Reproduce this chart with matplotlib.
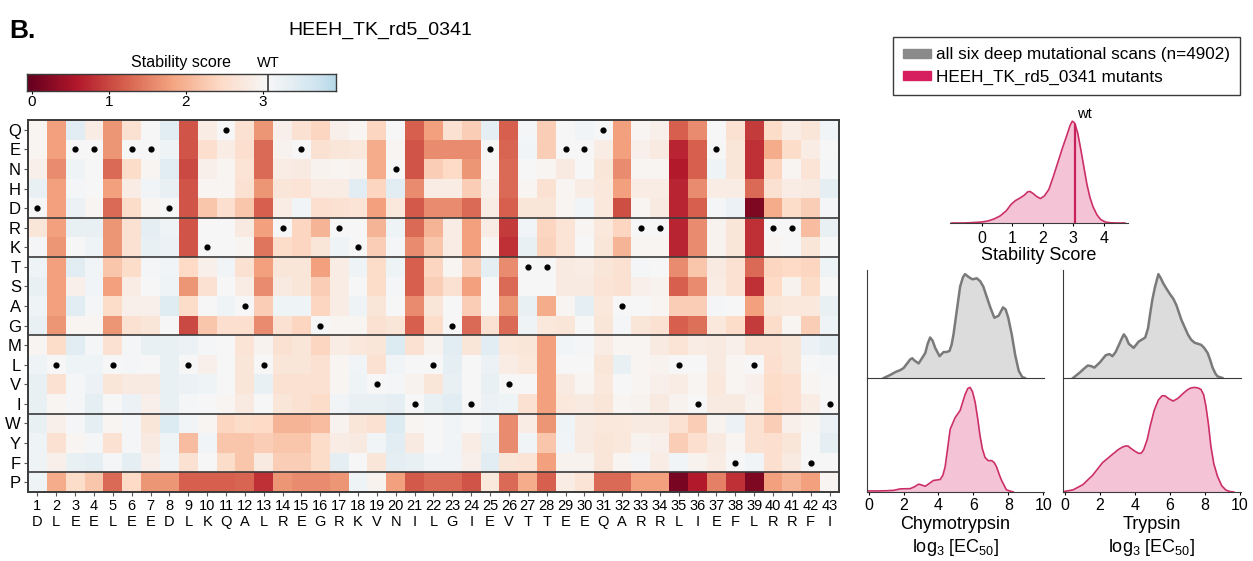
import numpy as np
import matplotlib.pyplot as plt
from matplotlib.colors import Normalize
from matplotlib.patches import Patch

plt.rcParams['font.family'] = ['Liberation Sans', 'DejaVu Sans']
plt.rcParams['mathtext.default'] = 'regular'

W, H = 1253, 561

sequence = "DLEELEEDLKQALREGRKVNILGIEVTTEEQARRLIEFLRRFI"
amino_acids = list("QENHDRKTSAGMLVIWYFP")
group_breaks = [4.5, 6.5, 10.5, 14.5, 17.5]
wt_score = 3.07

# stability score of each substitution, one list per position,
# rows in amino_acids order (Q E N H D R K T S A G M L V I W Y F P); None = wild type
N = None
scores_by_position = [
    [3.0, 3.0, 2.9, 3.3, N, 2.7, 3.1, 3.2, 3.3, 3.2, 3.3, 3.0, 3.2, 3.3, 3.3, 3.3, 3.2, 3.2, 3.2],
    [1.8, 1.8, 1.6, 1.8, 1.8, 1.8, 1.7, 1.8, 1.8, 1.8, 1.7, 2.5, N, 2.6, 3.0, 2.9, 2.6, 2.9, 1.9],
    [3.4, N, 3.2, 3.1, 3.25, 3.3, 3.05, 3.4, 2.9, 3.4, 3.0, 3.4, 3.2, 3.1, 3.1, 3.1, 3.0, 3.3, 2.5],
    [2.85, N, 3.05, 3.05, 3.0, 3.3, 3.2, 3.15, 3.15, 3.1, 3.0, 3.1, 3.2, 3.25, 3.35, 3.35, 3.1, 3.35, 2.2],
    [1.7, 1.7, 1.3, 1.8, 1.3, 1.7, 1.7, 2.2, 1.8, 2.5, 1.7, 2.6, N, 2.7, 3.05, 3.0, 2.6, 3.1, 1.3],
    [2.6, N, 2.5, 2.85, 2.5, 2.6, 2.6, 2.5, 2.85, 2.9, 2.6, 3.1, 3.1, 2.8, 3.25, 3.1, 3.1, 3.35, 2.45],
    [3.05, N, 3.0, 3.15, 3.0, 3.35, 3.3, 3.1, 3.05, 2.9, 2.7, 3.3, 3.05, 2.8, 2.9, 2.7, 2.8, 2.9, 1.7],
    [3.4, 3.2, 3.4, 3.3, N, 3.2, 3.25, 3.15, 3.2, 3.45, 3.05, 3.3, 3.3, 3.3, 3.3, 3.5, 3.2, 3.15, 1.7],
    [1.1, 1.1, 1.0, 1.1, 1.1, 1.1, 1.1, 2.45, 1.7, 2.5, 1.0, 3.25, N, 3.25, 3.1, 3.15, 2.1, 2.6, 1.2],
    [2.85, 2.55, 2.9, 3.0, 2.2, 3.05, N, 2.9, 2.6, 3.05, 2.2, 3.1, 2.9, 3.2, 3.05, 3.0, 3.15, 3.05, 1.2],
    [N, 2.85, 3.0, 3.0, 2.55, 3.05, 3.05, 3.15, 3.05, 3.2, 2.55, 3.05, 3.05, 3.05, 3.0, 2.4, 2.2, 2.5, 1.2],
    [2.6, 2.55, 2.65, 2.6, 2.2, 2.8, 3.0, 2.6, 2.85, N, 2.55, 2.65, 2.7, 2.7, 2.8, 2.5, 2.2, 2.2, 1.25],
    [1.7, 1.3, 1.3, 1.7, 1.2, 1.8, 1.4, 1.8, 1.6, 2.3, 1.6, 2.95, N, 3.3, 3.05, 2.45, 2.3, 2.8, 0.8],
    [2.9, 2.95, 2.85, 2.7, 2.85, N, 2.5, 2.7, 2.8, 3.2, 2.6, 2.6, 2.7, 2.6, 2.7, 2.0, 2.2, 2.3, 1.7],
    [2.6, N, 2.8, 2.65, 3.15, 2.4, 2.4, 2.7, 2.7, 3.2, 2.4, 2.7, 2.7, 2.6, 2.6, 2.0, 2.2, 2.3, 1.6],
    [2.4, 2.6, 2.95, 2.85, 2.55, 2.0, 2.7, 1.8, 2.3, 2.4, N, 2.4, 2.6, 2.6, 2.5, 2.1, 2.5, 2.5, 1.6],
    [2.9, 2.7, 3.0, 2.85, 2.6, N, 3.2, 2.85, 2.85, 2.85, 3.0, 2.85, 3.0, 3.0, 3.15, 2.95, 2.85, 3.35, 1.7],
    [3.0, 2.75, 2.95, 3.4, 2.65, 3.05, N, 3.2, 3.05, 3.2, 3.0, 2.75, 3.15, 3.2, 3.3, 2.7, 2.8, 3.05, 3.2],
    [2.4, 1.9, 1.9, 2.4, 1.8, 2.0, 2.3, 2.5, 2.5, 2.7, 2.6, 2.7, 2.6, N, 3.3, 2.6, 3.15, 2.7, 2.95],
    [3.05, 3.0, N, 3.4, 2.75, 3.2, 3.1, 3.2, 3.1, 3.05, 2.7, 3.5, 3.15, 3.1, 3.35, 3.5, 3.4, 3.35, 1.8],
    [1.2, 1.1, 1.1, 1.6, 1.15, 1.3, 1.6, 1.2, 1.2, 1.6, 1.2, 2.6, 3.05, 2.95, N, 3.0, 2.8, 3.3, 1.15],
    [1.8, 1.6, 2.3, 2.85, 1.6, 2.0, 2.2, 2.4, 2.3, 2.7, 2.5, 2.95, N, 2.7, 3.3, 3.05, 3.05, 3.15, 1.3],
    [2.6, 1.6, 2.45, 2.85, 1.6, 2.85, 2.85, 3.0, 2.6, 3.05, N, 3.4, 3.35, 3.3, 3.4, 3.15, 3.15, 3.15, 1.3],
    [2.3, 1.6, 1.7, 2.3, 1.3, 1.8, 1.8, 2.3, 1.8, 2.3, 1.3, 2.7, 3.05, 3.05, N, 3.05, 2.85, 2.9, 1.1],
    [3.35, N, 3.0, 2.9, 2.85, 2.85, 3.0, 3.35, 3.05, 3.05, 2.6, 3.4, 3.25, 3.3, 3.25, 3.2, 3.3, 3.4, 2.75],
    [1.2, 1.25, 1.3, 1.3, 1.2, 0.9, 0.8, 1.6, 1.3, 1.7, 1.3, 2.75, 2.85, N, 3.2, 1.6, 1.6, 2.7, 1.3],
    [3.1, 3.15, 3.05, 3.0, 2.7, 3.15, 3.3, N, 3.05, 3.3, 3.2, 2.7, 2.75, 3.05, 2.6, 2.85, 3.15, 2.65, 1.9],
    [2.3, 2.3, 3.0, 2.6, 2.7, 2.4, 2.35, N, 3.05, 1.9, 2.75, 1.8, 1.8, 1.8, 1.8, 1.7, 2.2, 1.8, 1.2],
    [3.05, N, 2.8, 3.0, 3.0, 2.65, 2.65, 2.8, 2.8, 3.0, 2.7, 3.15, 3.05, 2.8, 2.75, 3.2, 3.15, 2.95, 2.85],
    [3.15, N, 3.05, 2.85, 3.15, 3.0, 3.05, 2.85, 2.8, 3.35, 3.05, 3.1, 3.05, 3.0, 2.8, 2.8, 2.8, 2.95, 2.65],
    [N, 2.85, 2.7, 2.75, 2.75, 2.75, 2.7, 2.7, 2.65, 2.75, 2.7, 2.85, 2.7, 2.75, 2.7, 2.75, 2.7, 2.7, 1.3],
    [1.8, 1.8, 1.6, 1.8, 1.05, 2.4, 2.0, 2.6, 2.6, N, 3.1, 3.0, 3.3, 3.05, 3.0, 2.75, 2.75, 3.0, 1.3],
    [3.0, 2.9, 3.0, 2.85, 3.0, N, 3.0, 3.1, 2.9, 3.05, 2.7, 3.0, 3.0, 3.0, 2.95, 2.8, 2.95, 3.1, 1.8],
    [2.9, 2.8, 3.0, 2.85, 2.8, N, 3.0, 3.05, 2.95, 3.0, 2.6, 2.8, 2.95, 2.9, 2.8, 2.8, 2.9, 2.85, 1.8],
    [1.2, 0.7, 0.6, 0.7, 0.7, 0.7, 0.7, 1.6, 1.2, 2.3, 1.2, 2.65, N, 2.85, 2.95, 2.6, 2.3, 3.15, 0.1],
    [1.6, 1.2, 1.2, 1.6, 1.2, 1.6, 1.6, 2.2, 1.6, 2.3, 1.35, 2.85, 3.05, 3.0, N, 2.3, 2.55, 2.95, 0.6],
    [3.05, N, 3.2, 2.85, 3.1, 2.95, 2.95, 2.8, 2.85, 3.1, 2.75, 2.8, 2.8, 2.75, 2.8, 2.95, 2.8, 2.85, 1.5],
    [2.6, 2.7, 2.7, 2.85, 3.25, 2.7, 2.7, 2.6, 2.6, 3.05, 2.5, 2.9, 3.0, 3.0, 2.8, 3.25, 3.0, N, 0.8],
    [0.9, 0.8, 0.8, 1.3, 0.15, 0.8, 0.8, 1.3, 0.8, 1.8, 0.9, 2.6, N, 2.9, 2.95, 2.6, 2.6, 3.15, 0.15],
    [2.5, 1.9, 2.4, 2.6, 1.9, N, 3.0, 2.4, 2.45, 2.7, 2.5, 2.6, 2.55, 2.5, 2.45, 2.3, 2.55, 2.55, 1.8],
    [2.85, 2.5, 3.0, 2.85, 2.5, N, 3.05, 2.45, 2.95, 2.75, 3.0, 2.7, 2.7, 2.55, 2.55, 2.9, 2.7, 2.8, 2.0],
    [2.7, 2.85, 2.65, 2.8, 2.3, 2.1, 2.7, 2.4, 2.5, 2.75, 2.3, 3.25, 3.05, 3.0, 2.85, 3.0, 3.05, N, 1.8],
    [3.15, 3.05, 3.1, 3.35, 3.1, 3.3, 3.05, 3.2, 3.05, 3.3, 3.2, 3.35, 3.1, 3.05, N, 3.25, 3.35, 3.05, 3.0],
]

# density curves (x, relative height)
stab_x = [-1.0, -0.6, -0.3, 0.0, 0.2, 0.4, 0.6, 0.8, 0.95, 1.1, 1.25, 1.4, 1.5, 1.58, 1.68, 1.8,
          1.92, 2.05, 2.2, 2.35, 2.5, 2.65, 2.8, 2.9, 2.97, 3.05, 3.15, 3.25, 3.35, 3.45, 3.55,
          3.65, 3.78, 3.9, 4.05, 4.2, 4.4, 4.7]
stab_y = [0.0, 0.0, 0.004, 0.01, 0.02, 0.04, 0.07, 0.12, 0.18, 0.22, 0.245, 0.275, 0.305, 0.31,
          0.29, 0.26, 0.24, 0.265, 0.33, 0.46, 0.6, 0.74, 0.87, 0.96, 1.0, 0.98, 0.88, 0.72, 0.55,
          0.38, 0.25, 0.16, 0.08, 0.035, 0.01, 0.003, 0.0, 0.0]

chymo_all_x = [0.86, 1.24, 1.5, 1.62, 1.8, 2.0, 2.2, 2.38, 2.5, 2.61, 2.86, 3.05, 3.24, 3.38, 3.52,
               3.66, 3.81, 4.06, 4.29, 4.45, 4.63, 4.75, 4.86, 5.05, 5.24, 5.4, 5.52, 5.75, 5.95,
               6.2, 6.4, 6.57, 6.75, 6.95, 7.2, 7.45, 7.7, 7.85, 8.0, 8.2, 8.4, 8.6, 8.8, 8.95]
chymo_all_y = [0.0, 0.03, 0.055, 0.064, 0.075, 0.096, 0.14, 0.18, 0.19, 0.17, 0.14, 0.19, 0.24, 0.33,
               0.39, 0.36, 0.29, 0.21, 0.25, 0.25, 0.26, 0.32, 0.42, 0.65, 0.88, 0.97, 1.0, 0.97,
               0.95, 0.96, 0.93, 0.88, 0.79, 0.69, 0.58, 0.6, 0.68, 0.66, 0.58, 0.42, 0.22, 0.07,
               0.01, 0.0]
chymo_mut_x = [-0.07, 0.5, 1.0, 1.43, 1.81, 2.38, 2.62, 2.86, 3.05, 3.24, 3.5, 3.71, 4.1, 4.25,
               4.38, 4.55, 4.67, 4.95, 5.24, 5.52, 5.68, 5.81, 5.95, 6.1, 6.25, 6.38, 6.52, 6.67,
               6.85, 7.05, 7.2, 7.33, 7.5, 7.62, 7.9, 8.29]
chymo_mut_y = [0.01, 0.01, 0.012, 0.016, 0.03, 0.032, 0.05, 0.075, 0.066, 0.055, 0.085, 0.11, 0.12,
               0.16, 0.24, 0.45, 0.6, 0.71, 0.78, 0.93, 0.99, 1.0, 0.96, 0.86, 0.7, 0.54, 0.41, 0.33,
               0.3, 0.3, 0.28, 0.24, 0.16, 0.11, 0.02, 0.0]
tryp_all_x = [0.47, 0.84, 1.1, 1.31, 1.5, 1.69, 2.0, 2.34, 2.55, 2.72, 2.9, 3.09, 3.25, 3.37, 3.5,
              3.65, 3.93, 4.21, 4.4, 4.59, 4.75, 4.87, 5.0, 5.15, 5.34, 5.48, 5.62, 5.8, 5.99, 6.2,
              6.37, 6.65, 7.02, 7.2, 7.4, 7.77, 7.95, 8.15, 8.3, 8.43, 8.6, 8.71, 8.99]
tryp_all_y = [0.0, 0.05, 0.09, 0.12, 0.115, 0.10, 0.15, 0.22, 0.23, 0.21, 0.25, 0.32, 0.38, 0.42,
              0.39, 0.33, 0.29, 0.35, 0.37, 0.39, 0.48, 0.62, 0.76, 0.88, 1.0, 0.96, 0.91, 0.86,
              0.81, 0.76, 0.70, 0.56, 0.42, 0.37, 0.34, 0.32, 0.29, 0.24, 0.17, 0.10, 0.04, 0.016,
              0.0]
tryp_mut_x = [0.0, 0.47, 1.03, 1.59, 2.15, 2.72, 3.09, 3.3, 3.46, 3.6, 3.75, 4.0, 4.21, 4.35, 4.49,
              4.7, 4.87, 5.1, 5.34, 5.55, 5.71, 5.95, 6.18, 6.4, 6.55, 6.8, 7.02, 7.2, 7.4, 7.6,
              7.77, 7.92, 8.05, 8.2, 8.33, 8.5, 8.71, 8.95, 9.18, 9.4, 9.64]
tryp_mut_y = [0.006, 0.02, 0.07, 0.16, 0.28, 0.36, 0.41, 0.43, 0.44, 0.44, 0.42, 0.39, 0.37, 0.37,
              0.40, 0.5, 0.63, 0.78, 0.88, 0.92, 0.92, 0.89, 0.87, 0.89, 0.91, 0.95, 0.98, 0.995,
              1.0, 0.995, 0.98, 0.93, 0.82, 0.64, 0.44, 0.27, 0.15, 0.06, 0.02, 0.005, 0.0]

gray_line, gray_fill = '#7a7a7a', '#dcdcdc'
pink_line, pink_fill = '#cc2f68', '#f4c3d5'
frame = '#3a3a3a'


def box(x0, y0, x1, y1):
    # pixel box (top-left origin) -> figure fraction rect
    return [x0 / W, 1 - y1 / H, (x1 - x0) / W, (y1 - y0) / H]


fig = plt.figure(figsize=(W / 100, H / 100), dpi=100)

grid = np.array([[wt_score if v is None else v for v in col] for col in scores_by_position]).T
cmap = plt.get_cmap('RdBu')
norm = Normalize(vmin=-0.05, vmax=2 * wt_score + 0.05)

# heatmap
ax = fig.add_axes(box(28, 120, 839, 492))
ax.imshow(grid, cmap=cmap, norm=norm, aspect='auto', interpolation='nearest',
          extent=(-0.5, len(sequence) - 0.5, len(amino_acids) - 0.5, -0.5))
for j, aa in enumerate(sequence):
    ax.scatter(j, amino_acids.index(aa), s=12, color='black', zorder=3)
for yb in group_breaks:
    ax.axhline(yb, color=frame, lw=1.2)
ax.set_xticks(range(len(sequence)))
ax.set_xticklabels([f"{i + 1}\n{aa}" for i, aa in enumerate(sequence)], fontsize=10.5, linespacing=1.2)
ax.set_yticks(range(len(amino_acids)))
ax.set_yticklabels(amino_acids, fontsize=12)
ax.tick_params(length=3, width=0.8, pad=2, color='#555555')
for s in ax.spines.values():
    s.set_color(frame)
    s.set_linewidth(1.4)

# colour bar
cax = fig.add_axes(box(27, 74, 336, 91))
grad = np.linspace(-0.065, 3.95, 300)[None, :]
cax.imshow(grad, cmap=cmap, norm=norm, aspect='auto', extent=(-0.065, 3.95, 0, 1))
cax.axvline(wt_score, color=frame, lw=1.2)
cax.set_xlim(-0.065, 3.95)
cax.set_yticks([])
cax.set_xticks([0, 1, 2, 3])
cax.tick_params(axis='x', length=2, labelsize=11, pad=1)
for s in cax.spines.values():
    s.set_color(frame)
    s.set_linewidth(1.0)
cax.text(1.94, 1.25, "Stability score", ha='center', va='bottom', fontsize=11.5)
cax.text(wt_score, 1.25, "WT", ha='center', va='bottom', fontsize=10.5)

fig.text(9 / W, 1 - 38 / H, "B.", fontsize=19, fontweight='bold', va='baseline')
fig.text(380 / W, 1 - 30 / H, "HEEH_TK_rd5_0341", fontsize=14, ha='center', va='center')

# legend
handles = [Patch(color='#8a8a8a'), Patch(color='#d61f5e')]
fig.legend(handles, ["all six deep mutational scans (n=4902)", "HEEH_TK_rd5_0341 mutants"],
           loc='upper left', bbox_to_anchor=(893 / W, 1 - 37 / H), fontsize=12.3,
           frameon=True, fancybox=False, edgecolor=frame, framealpha=1,
           handlelength=1.6, handleheight=0.45, handletextpad=0.3, labelspacing=0.45,
           borderpad=0.6, borderaxespad=0)

# stability score density
sax = fig.add_axes(box(950, 112, 1128, 223))
sax.fill_between(stab_x, stab_y, color=pink_fill, lw=0)
sax.plot(stab_x, stab_y, color=pink_line, lw=1.2)
sax.plot([wt_score, wt_score], [0, np.interp(wt_score, stab_x, stab_y)], color='#c8225a', lw=1.6)
sax.text(wt_score + 0.05, 1.0, "wt", fontsize=10.5, ha='left', va='bottom')
sax.set_xlim(-1.05, 4.8)
sax.set_ylim(0, 1.09)
sax.set_yticks([])
sax.set_xticks([0, 1, 2, 3, 4])
sax.tick_params(axis='x', length=2.5, labelsize=11.5, pad=3)
for k in ('left', 'right', 'top'):
    sax.spines[k].set_visible(False)
sax.spines['bottom'].set_color(frame)
sax.set_xlabel("Stability Score", fontsize=13, labelpad=1)
sax.patch.set_alpha(0)

# protease EC50 densities
panels = [
    (867, 1044, chymo_all_x, chymo_all_y, chymo_mut_x, chymo_mut_y, "Chymotrypsin\nlog$_3$ [EC$_{50}$]"),
    (1063, 1241, tryp_all_x, tryp_all_y, tryp_mut_x, tryp_mut_y, "Trypsin\nlog$_3$ [EC$_{50}$]"),
]
for x0, x1, ax_, ay_, mx_, my_, label in panels:
    top = fig.add_axes(box(x0, 270, x1, 378))
    bot = fig.add_axes(box(x0, 378, x1, 492))
    top.fill_between(ax_, ay_, color=gray_fill, lw=0)
    top.plot(ax_, ay_, color=gray_line, lw=1.8)
    bot.fill_between(mx_, my_, color=pink_fill, lw=0)
    bot.plot(mx_, my_, color=pink_line, lw=1.2)
    top.set_ylim(0, 1.04)
    bot.set_ylim(0, 1.09)
    for a in (top, bot):
        a.set_xlim(-0.1, 10.05)
        a.set_yticks([])
        a.spines['right'].set_visible(False)
        a.spines['top'].set_visible(False)
        a.spines['left'].set_color(frame)
        a.spines['bottom'].set_color(frame)
        a.patch.set_alpha(0)
    top.set_xticks([])
    bot.set_xticks([0, 2, 4, 6, 8, 10])
    bot.tick_params(axis='x', length=2.5, labelsize=11.5, pad=2)
    bot.set_xlabel(label, fontsize=13, linespacing=1.25, labelpad=2)

fig.savefig("out.png", dpi=100)
